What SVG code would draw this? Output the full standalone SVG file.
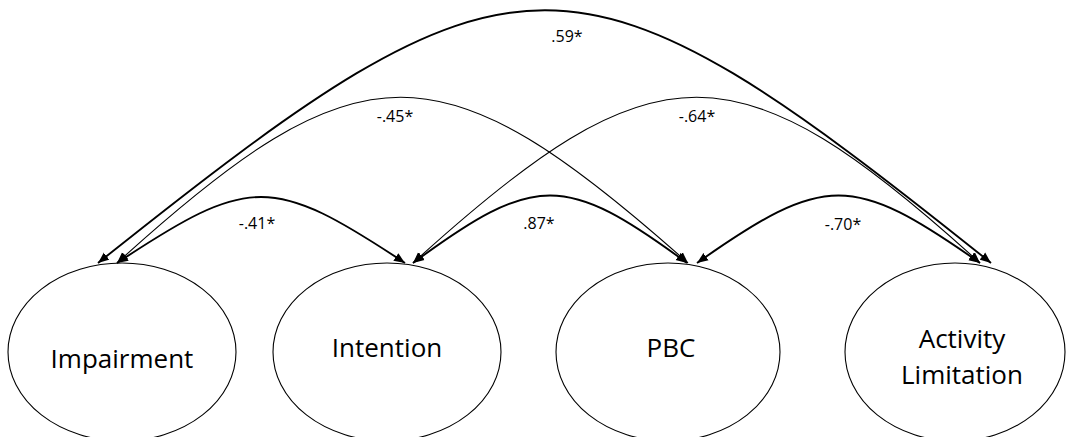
<svg xmlns="http://www.w3.org/2000/svg" width="1085" height="437" viewBox="0 0 1085 437">
<style>
.node ellipse{fill:#fff;stroke:#000;stroke-width:1.1}
.node text{font-family:"Open Sans","Liberation Sans",sans-serif;font-size:26px;fill:#000;text-anchor:middle}
.conn path{fill:none;stroke:#000;marker-start:url(#ah);marker-end:url(#ah)}
.thick{stroke-width:1.9}
.thin{stroke-width:1.1}
.lbl{font-family:"Open Sans","Liberation Sans",sans-serif;font-size:16px;fill:#000;text-anchor:middle}
</style>
<defs>
<marker id="ah" markerUnits="userSpaceOnUse" markerWidth="12" markerHeight="10" refX="11" refY="5" orient="auto-start-reverse" viewBox="0 0 12 10">
<path d="M0,0.5 L11,5 L0,9.5 z" fill="#000"/>
</marker>
</defs>
<rect width="1085" height="437" fill="#fff"/>
<g id="node-impairment" class="node">
<ellipse cx="122" cy="352" rx="114" ry="89"/>
<text x="122" y="368">Impairment</text>
</g>
<g id="node-intention" class="node">
<ellipse cx="387" cy="352" rx="114" ry="89"/>
<text x="387" y="357">Intention</text>
</g>
<g id="node-pbc" class="node">
<ellipse cx="668" cy="352" rx="112" ry="89"/>
<text x="671" y="357">PBC</text>
</g>
<g id="node-activity" class="node">
<ellipse cx="955" cy="352" rx="110" ry="89"/>
<text x="962" y="348">Activity</text>
<text x="962" y="384">Limitation</text>
</g>
<g id="connectors" class="conn">
<path class="thick" d="M98,263 C520,-74 570,-74 991,263"/>
<path class="thin" d="M117,263 C360,42 440,42 688,263"/>
<path class="thin" d="M413,263 C656,42 737,42 980,263"/>
<path class="thick" d="M117,263 C250,175 272,175 405,263"/>
<path class="thick" d="M413,263 C535,173 565,173 687,263"/>
<path class="thick" d="M697,263 C825,173 852,173 980,263"/>
</g>
<g id="labels">
<text class="lbl" x="567" y="42">.59*</text>
<text class="lbl" x="395" y="122">-.45*</text>
<text class="lbl" x="697" y="122">-.64*</text>
<text class="lbl" x="257" y="229">-.41*</text>
<text class="lbl" x="539" y="229">.87*</text>
<text class="lbl" x="843" y="230">-.70*</text>
</g>
</svg>
